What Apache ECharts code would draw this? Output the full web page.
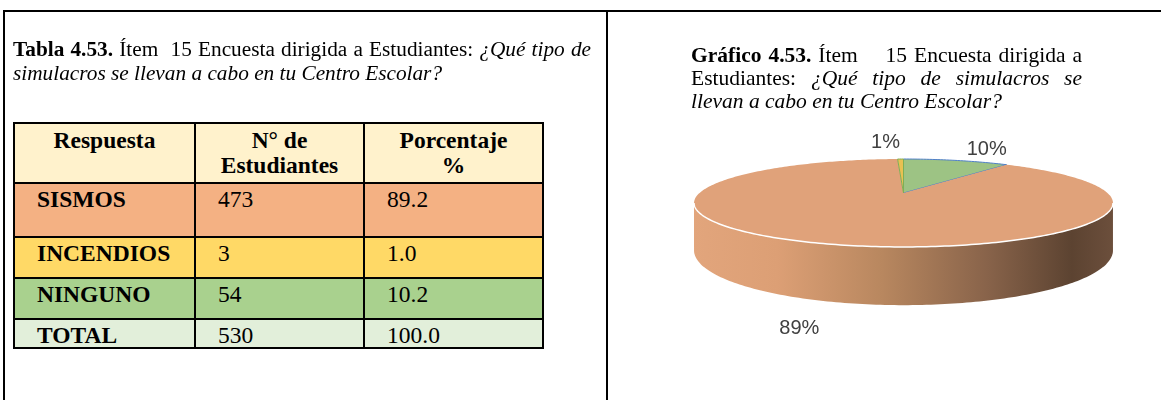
<!DOCTYPE html>
<html><head><meta charset="utf-8">
<script src="https://cdn.jsdelivr.net/npm/echarts@6/dist/echarts.min.js"></script>
<style>
html,body{margin:0;padding:0;background:#fff;}
#page{position:relative;width:1161px;height:400px;overflow:hidden;font-family:"Liberation Serif","Times New Roman",serif;color:#000;}
#chart{position:absolute;left:0;top:0;width:1161px;height:400px;z-index:0;}
.rule{position:absolute;background:#000;z-index:3;}
.tline{position:absolute;white-space:nowrap;font-size:21.5px;line-height:24px;z-index:2;}
.just{white-space:normal;text-align:justify;text-align-last:justify;}
.cell{position:absolute;box-sizing:border-box;font-size:23.5px;z-index:1;overflow:hidden;}
.hcell{text-align:center;font-weight:bold;line-height:25px;padding-top:5px;}
.bcell{padding-left:23px;line-height:26px;padding-top:3px;}
</style></head>
<body>
<div id="page">
  <div id="chart"></div>
  <div class="rule" style="left:3px;top:10px;width:1158px;height:2px;"></div>
  <div class="rule" style="left:3px;top:10px;width:2px;height:390px;"></div>
  <div class="rule" style="left:606px;top:10px;width:2px;height:390px;"></div>

  <div class="tline just" style="left:13px;top:37px;width:578px;font-size:21.3px;"><b>Tabla 4.53.</b> Ítem&nbsp; 15 Encuesta dirigida a Estudiantes: <i>¿Qué tipo de</i></div>
  <div class="tline" style="left:13px;top:61px;font-size:21.3px;"><i>simulacros se llevan a cabo en tu Centro Escolar?</i></div>

  <div class="tline just" style="left:691px;top:43px;width:391px;"><b>Gráfico 4.53.</b> Ítem&nbsp;&nbsp;&nbsp; 15 Encuesta dirigida a</div>
  <div class="tline just" style="left:691px;top:66px;width:391px;">Estudiantes: <i>¿Qué tipo de simulacros se</i></div>
  <div class="tline" style="left:691px;top:89px;"><i>llevan a cabo en tu Centro Escolar?</i></div>

  <div id="table"></div>
</div>
<script>
// ---- data ----
const categories = ['SISMOS', 'INCENDIOS', 'NINGUNO'];
const studentCounts = [473, 3, 54];
const percentages = [89.2, 1.0, 10.2];
const totalLabel = 'TOTAL';
const totalStudents = 530;
const totalPercent = 100.0;
const headerLines = [['Respuesta'], ['N° de', 'Estudiantes'], ['Porcentaje', '%']];
// clockwise drawing order of the pie slices, starting at 12 o'clock
const pieOrder = [2, 0, 1];

// ---- styles ----
const rowColors = ['#FFF2CC', '#F4B183', '#FFD966', '#A9D18E', '#E2EFDA'];
const sliceColors = ['#E0A27A', '#E9C152', '#9DC384'];
const sliceStrokes = [null, '#7FAE55', '#4F7FC8'];

// ---- table ----
(function buildTable() {
  const xs = [14, 195, 364, 543];
  const ys = [123, 183, 237, 278, 319, 348];
  const host = document.getElementById('table');
  const rows = [];
  rows.push(headerLines.map(l => l.join('<br>')));
  categories.forEach((c, i) => rows.push([c, String(studentCounts[i]), percentages[i].toFixed(1)]));
  rows.push([totalLabel, String(totalStudents), totalPercent.toFixed(1)]);
  let html = '';
  rows.forEach((r, ri) => {
    r.forEach((txt, ci) => {
      const cls = ri === 0 ? 'cell hcell' : 'cell bcell';
      const fw = (ri > 0 && ci === 0) ? 'font-weight:bold;' : '';
      html += '<div class="' + cls + '" style="left:' + xs[ci] + 'px;top:' + ys[ri] + 'px;width:' + (xs[ci + 1] - xs[ci]) + 'px;height:' + (ys[ri + 1] - ys[ri]) + 'px;background:' + rowColors[ri] + ';' + fw + '">' + txt + '</div>';
    });
  });
  ys.forEach(y => { html += '<div class="rule" style="left:' + (xs[0] - 1) + 'px;top:' + (y - 1) + 'px;width:' + (xs[3] - xs[0] + 2) + 'px;height:2px;"></div>'; });
  xs.forEach(x => { html += '<div class="rule" style="left:' + (x - 1) + 'px;top:' + (ys[0] - 1) + 'px;width:2px;height:' + (ys[5] - ys[0] + 2) + 'px;"></div>'; });
  host.innerHTML = html;
})();

// ---- 3D pie via custom series ----
const P = 0.227, RX = 204, RY = 41.7, CX = 903.5, CY = 193, DEPTH = 45;
function sScale(deg, rf) { return 1 / (1 + P * rf * Math.cos(deg * Math.PI / 180)); }
function proj(deg, rf, dy) {
  const t = deg * Math.PI / 180;
  const X = rf * Math.sin(t), Z = rf * Math.cos(t);
  const s = 1 / (1 + P * Z);
  return [CX + RX * X * s, CY - RY * Z * s + (dy || 0) * sScale(deg, 1)];
}
function arc(a0, a1, rf, dy) {
  const pts = [];
  const n = Math.max(2, Math.ceil(Math.abs(a1 - a0)));
  for (let i = 0; i <= n; i++) pts.push(proj(a0 + (a1 - a0) * i / n, rf, dy));
  return pts;
}
const total = studentCounts.reduce((a, b) => a + b, 0);
const starts = [], ends = [];
let acc = 0;
pieOrder.forEach((ci, k) => { starts[k] = acc; acc += studentCounts[ci] / total * 360; ends[k] = acc; });
const silL = Math.acos(-P) * 180 / Math.PI, silR = 360 - silL;
const sideGradient = {
  type: 'linear', global: true, x: CX - RX * 1.03, y: 0, x2: CX + RX * 1.03, y2: 0,
  colorStops: [
    { offset: 0, color: '#E2A57C' }, { offset: 0.2, color: '#DC9F75' },
    { offset: 0.45, color: '#B8875F' }, { offset: 0.7, color: '#88634A' },
    { offset: 0.9, color: '#5C4331' }, { offset: 1, color: '#6C4F3C' }
  ]
};

function renderItem(params, api) {
  const k = params.dataIndex;
  const ci = pieOrder[k];
  const a0 = starts[k], a1 = ends[k];
  const children = [];
  // top face
  const topPts = [[CX, CY]].concat(arc(a0, a1, 1, 0));
  children.push({
    type: 'polygon', z2: 10, shape: { points: topPts },
    style: { fill: sliceColors[ci], stroke: sliceStrokes[ci] || null, lineWidth: sliceStrokes[ci] ? 1 : 0 }
  });
  // side face (front visible part)
  [[silL, silR], [silL + 360, silR + 360]].forEach(w => {
    const lo = Math.max(a0, w[0]), hi = Math.min(a1, w[1]);
    if (hi > lo) {
      const up = arc(lo, hi, 1, 0);
      const dn = arc(hi, lo, 1, DEPTH);
      children.push({ type: 'polygon', z2: 1, shape: { points: up.concat(dn) }, style: { fill: sideGradient } });
      children.push({ type: 'polyline', z2: 12, shape: { points: up }, style: { stroke: '#FFFFFF', lineWidth: 1.5, fill: null } });
    }
  });
  // label
  const mid = (a0 + a1) / 2;
  const t = mid * Math.PI / 180;
  const rf = 1.25;
  const p = proj(mid, rf, 0);
  const front = Math.cos(t) < 0;
  let align, vAlign, y = p[1];
  if (front) {
    align = 'center'; vAlign = 'top';
    y += DEPTH * sScale(mid, 1);
  } else {
    align = Math.sin(t) >= 0 ? 'left' : 'right';
    vAlign = 'bottom';
    y += 5 * Math.abs(Math.sin(t)) / 0.3;
  }
  children.push({
    type: 'text', z2: 30, x: p[0], y: y,
    style: {
      text: Math.round(studentCounts[ci] / total * 100) + '%',
      fill: '#404040', fontSize: 20, fontFamily: '"Liberation Sans", Arial, sans-serif',
      align: align, verticalAlign: vAlign
    }
  });
  return { type: 'group', children: children };
}

const chart = echarts.init(document.getElementById('chart'), null, { renderer: 'canvas' });
chart.setOption({
  animation: false,
  series: [{
    type: 'custom', coordinateSystem: 'none', silent: true,
    data: pieOrder.map(i => studentCounts[i]),
    renderItem: renderItem
  }]
});
</script>
</body></html>
